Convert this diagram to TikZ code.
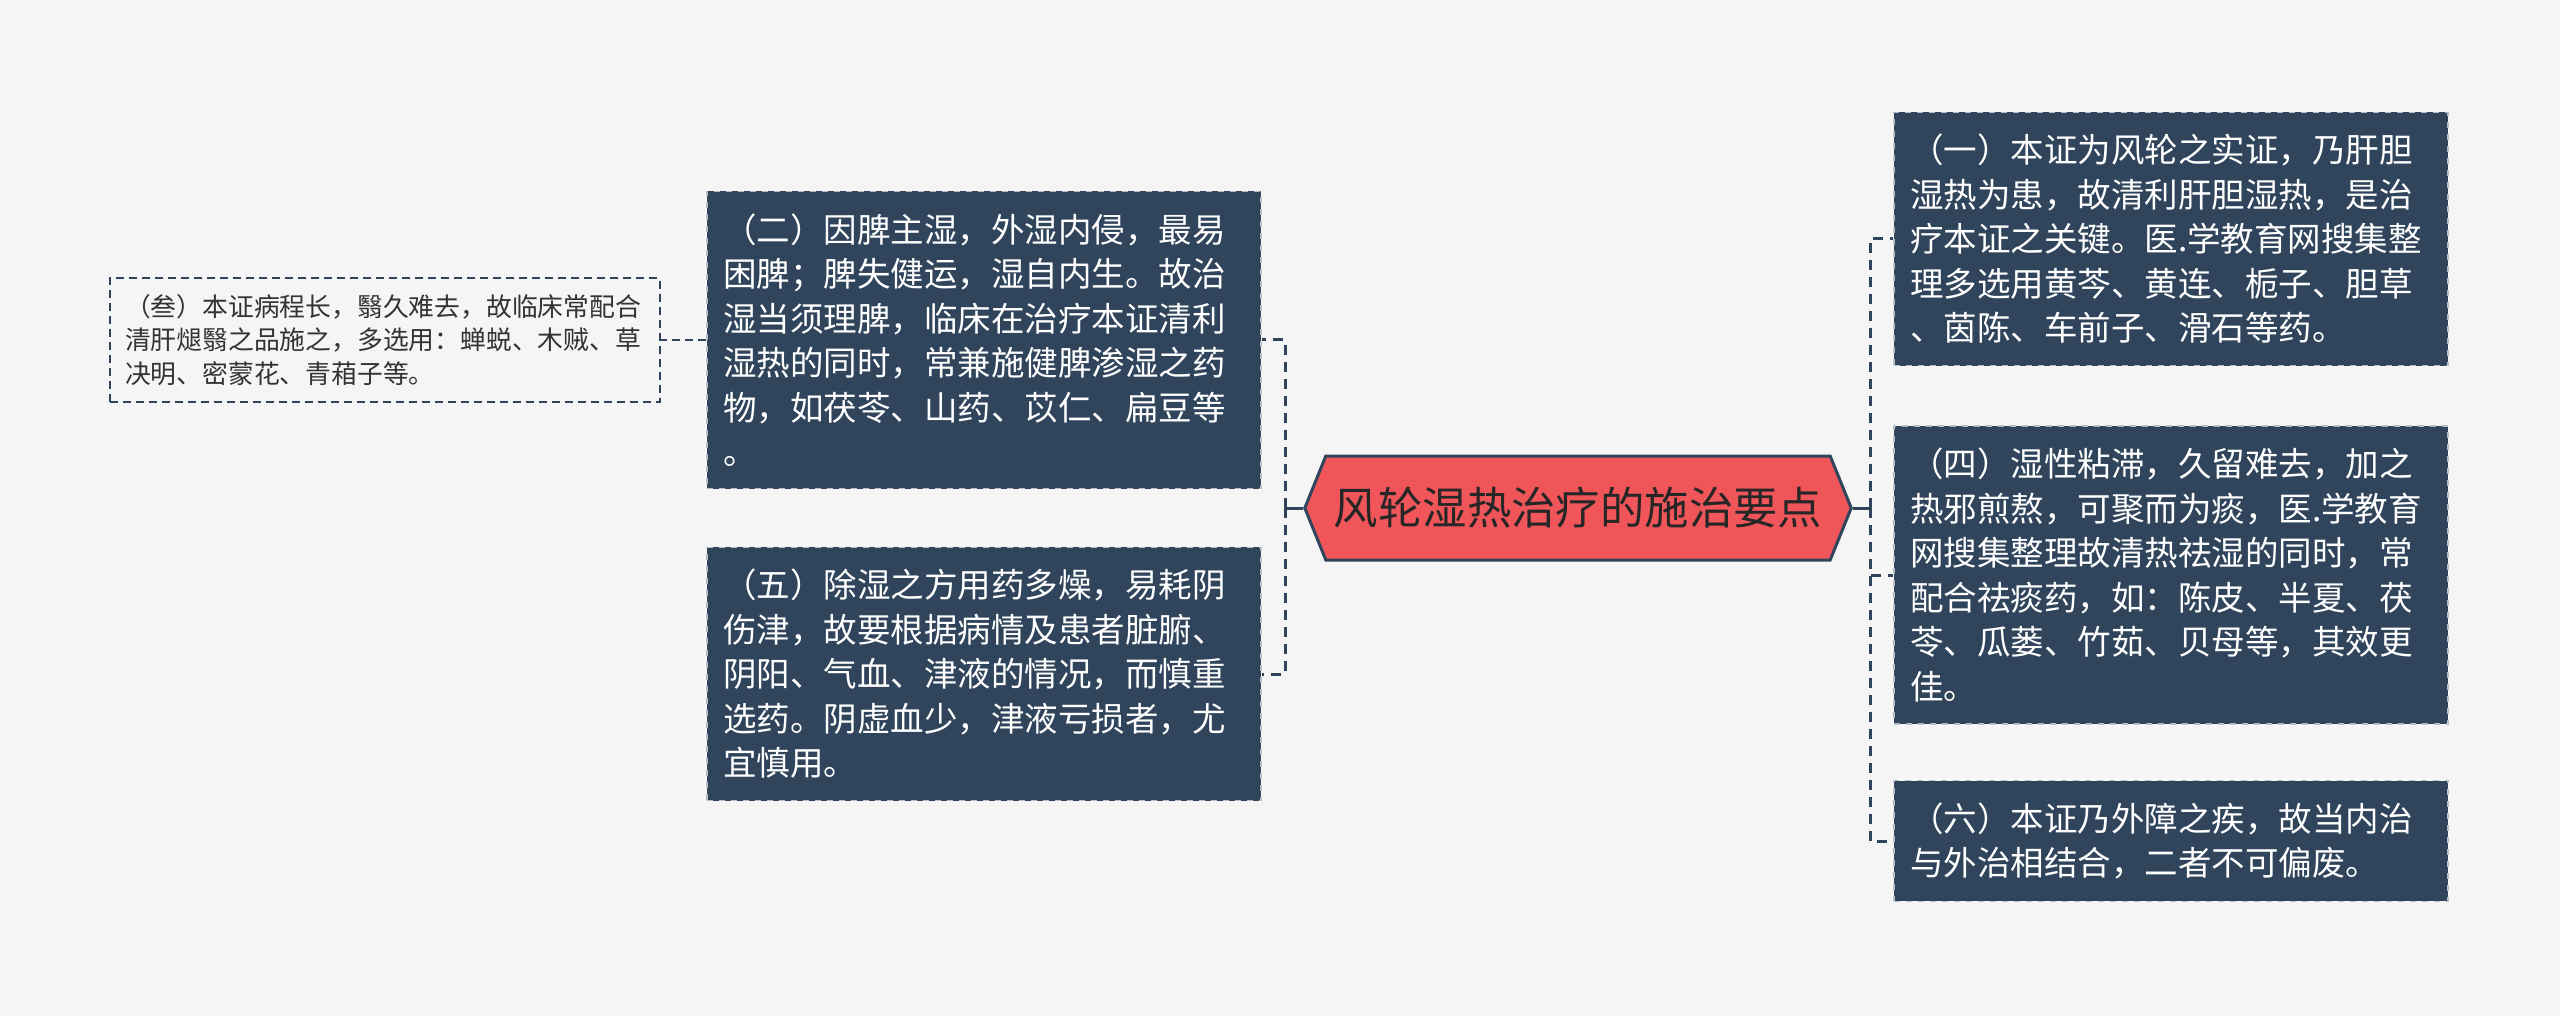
\documentclass[tikz,border=0pt]{standalone}
\usepackage{fontspec}
\setmainfont{Noto Sans CJK SC}
\usetikzlibrary{shapes.symbols}
\definecolor{navy}{HTML}{30455C}
\definecolor{coral}{HTML}{F05559}
\definecolor{paper}{HTML}{F5F5F5}
\tikzstyle{topic} = [signal, signal to=west and east, signal pointer angle=136, minimum height=52pt, inner xsep=4pt, draw=navy, line width=1.5pt, fill=coral, text=black!85, font=\fontsize{22.2pt}{26pt}\selectfont]
\tikzstyle{detail} = [rectangle, text width=261pt, inner xsep=8pt, inner ysep=11pt, align=left, fill=navy, draw=white!65!navy, dashed, line width=0.7pt, text=white, font=\fontsize{16.75pt}{22.25pt}\selectfont]
\tikzstyle{aside} = [rectangle, text width=260pt, inner xsep=7.5pt, inner ysep=8pt, align=left, draw=navy, dash pattern=on 4pt off 2.5pt, line width=1pt, text=black!80, font=\fontsize{12.9pt}{16.75pt}\selectfont]
\tikzstyle{connector} = [navy, line width=1.5pt, dash pattern=on 5pt off 3.5pt]

\begin{document}
\begin{tikzpicture}[x=0.5pt, y=-0.5pt]
    \fill [paper] (0,0) rectangle (2560,1016);

    \node (hub) [topic] at (1578,508) {风轮湿热治疗的施治要点};

    \node (two) [detail] at (984,340) {（二）因脾主湿，外湿内侵，最易\\困脾；脾失健运，湿自内生。故治\\湿当须理脾，临床在治疗本证清利\\湿热的同时，常兼施健脾渗湿之药\\物，如茯苓、山药、苡仁、扁豆等\\。};
    \node (five) [detail] at (984,674) {（五）除湿之方用药多燥，易耗阴\\伤津，故要根据病情及患者脏腑、\\阴阳、气血、津液的情况，而慎重\\选药。阴虚血少，津液亏损者，尤\\宜慎用。};
    \node (three) [aside] at (385,340) {（叁）本证病程长，翳久难去，故临床常配合\\清肝煺翳之品施之，多选用：蝉蜕、木贼、草\\决明、密蒙花、青葙子等。};

    \node (one) [detail] at (2171,239) {（一）本证为风轮之实证，乃肝胆\\湿热为患，故清利肝胆湿热，是治\\疗本证之关键。医.学教育网搜集整\\理多选用黄芩、黄连、栀子、胆草\\、茵陈、车前子、滑石等药。};
    \node (four) [detail] at (2171,575) {（四）湿性粘滞，久留难去，加之\\热邪煎熬，可聚而为痰，医.学教育\\网搜集整理故清热祛湿的同时，常\\配合祛痰药，如：陈皮、半夏、茯\\苓、瓜蒌、竹茹、贝母等，其效更\\佳。};
    \node (six) [detail] at (2171,841) {（六）本证乃外障之疾，故当内治\\与外治相结合，二者不可偏废。};

    \coordinate (lfork) at (1285,508);
    \coordinate (rfork) at (1870,508);

    \draw [navy, line width=1.5pt] (hub.west) -- (lfork);
    \draw [connector] (lfork) |- (two.east);
    \draw [connector] (lfork) |- (five.east);
    \draw [connector, line width=1pt, dash pattern=on 4pt off 2.5pt] (two.west) -- (three.east);

    \draw [navy, line width=1.5pt] (hub.east) -- (rfork);
    \draw [connector] (rfork) |- (one.west);
    \draw [connector] (rfork) |- (four.west);
    \draw [connector] (rfork) |- (six.west);
\end{tikzpicture}
\end{document}
